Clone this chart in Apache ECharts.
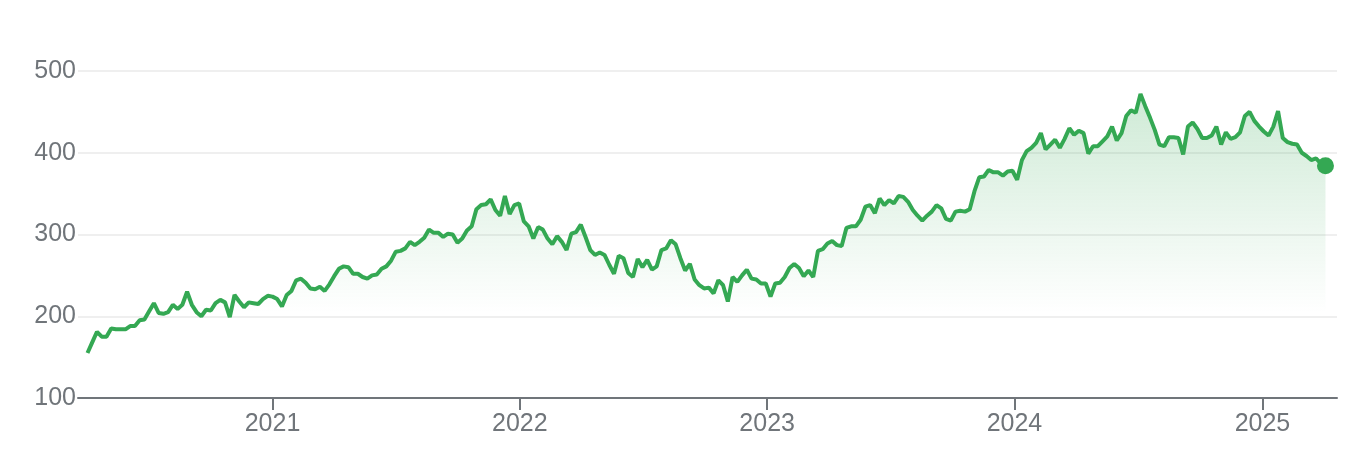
<!DOCTYPE html>
<html>
<head>
<meta charset="utf-8" />
<title>Price chart</title>
<script src="https://cdn.jsdelivr.net/npm/echarts@6/dist/echarts.min.js"></script>
<style>
html, body { margin: 0; padding: 0; background: #fff; }
#main { width: 1370px; height: 470px; }
</style>
</head>
<body>
<div id="main"></div>
<script type="text/javascript">
// weekly closes, first week is 2020-04-03
var firstWeek = [2020, 4, 3];
var w2020 = [155, 168, 181, 175, 175, 185, 184, 184, 184, 188, 188, 195, 196, 206, 216, 204, 203, 205, 214, 209,
	214, 230, 214, 205, 200, 208, 207, 216, 220, 217, 199, 226, 218, 211, 217, 216, 215, 221, 225];
var w2021 = [224, 221, 212, 226, 231, 244, 246, 241, 234, 233, 236, 231, 239, 249, 258, 261, 260, 252, 252, 248,
	246, 250, 251, 258, 261, 268, 279, 280, 283, 291, 287, 291, 296, 306, 302, 302, 297, 301, 300, 290,
	295, 305, 310, 331, 336, 337, 343, 330, 323, 347, 325, 336, 338];
var w2022 = [316, 310, 295, 309, 306, 295, 288, 298, 291, 281, 301, 303, 312, 297, 281, 275, 278, 275, 263, 252,
	274, 271, 253, 248, 270, 260, 269, 257, 261, 281, 283, 293, 288, 271, 256, 264, 245, 238, 234, 235,
	228, 244, 238, 218, 248, 242, 250, 257, 246, 245, 240, 240];
var w2023 = [224, 240, 241, 248, 259, 264, 259, 249, 256, 248, 280, 282, 289, 292, 287, 286, 308, 310, 310, 318,
	334, 336, 326, 344, 336, 342, 338, 347, 346, 340, 330, 323, 317, 323, 328, 336, 332, 319, 317, 328,
	329, 328, 331, 353, 370, 371, 379, 376, 376, 372, 377, 378];
var w2024 = [367, 391, 402, 406, 412, 424, 404, 410, 416, 406, 417, 430, 422, 427, 424, 399, 408, 408, 414, 420,
	432, 415, 424, 445, 452, 449, 472, 457, 443, 428, 410, 408, 419, 419, 418, 398, 432, 437, 429, 418,
	418, 421, 432, 410, 425, 417, 419, 425, 445, 450, 439, 432];
var w2025 = [426, 421, 432, 451, 418, 413, 411, 410, 400, 396, 391, 393, 387, 384];

var yMin = 100, yMax = 500, yStep = 100;
var axisStart = '2020-03-20', axisEnd = '2025-04-21';

var green = '#34a853';
var grey = '#70757a';
var font = 'Arial, "Liberation Sans", Helvetica, sans-serif';

var prices = w2020.concat(w2021, w2022, w2023, w2024, w2025);
var points = prices.map(function (v, i) {
	var d = new Date(firstWeek[0], firstWeek[1] - 1, firstWeek[2] + i * 7);
	return [d.getTime(), v];
});

var myChart = echarts.init(document.getElementById('main'));
var option = {
	animation: false,
	grid: { left: 78, right: 33, top: 71, bottom: 72 },
	xAxis: {
		type: 'time',
		min: axisStart,
		max: axisEnd,
		splitNumber: 5,
		minInterval: 365 * 864e5,
		axisLine: { lineStyle: { color: grey, width: 2 } },
		axisTick: { show: true, length: 12, lineStyle: { color: grey, width: 2 } },
		axisLabel: { formatter: '{yyyy}', color: grey, fontSize: 25, fontFamily: font, margin: 14 },
		splitLine: { show: false }
	},
	yAxis: {
		type: 'value',
		min: yMin,
		max: yMax,
		interval: yStep,
		axisLine: { show: false },
		axisTick: { show: false },
		axisLabel: { color: grey, fontSize: 25, fontFamily: font, margin: 2 },
		splitLine: { lineStyle: { color: '#efefef', width: 2 } }
	},
	series: [{
		type: 'line',
		data: points,
		symbol: 'none',
		showSymbol: false,
		lineStyle: { color: green, width: 4 },
		itemStyle: { color: green },
		areaStyle: {
			origin: 'start',
			opacity: 1,
			color: new echarts.graphic.LinearGradient(0, 0, 0, 1, [
				{ offset: 0, color: 'rgba(52,168,83,0.24)' },
				{ offset: 0.72, color: 'rgba(52,168,83,0)' },
				{ offset: 1, color: 'rgba(52,168,83,0)' }
			])
		}
	}, {
		type: 'scatter',
		data: [points[points.length - 1]],
		symbolSize: 17,
		itemStyle: { color: green, opacity: 1 },
		z: 5
	}]
};
myChart.setOption(option);
</script>
</body>
</html>
